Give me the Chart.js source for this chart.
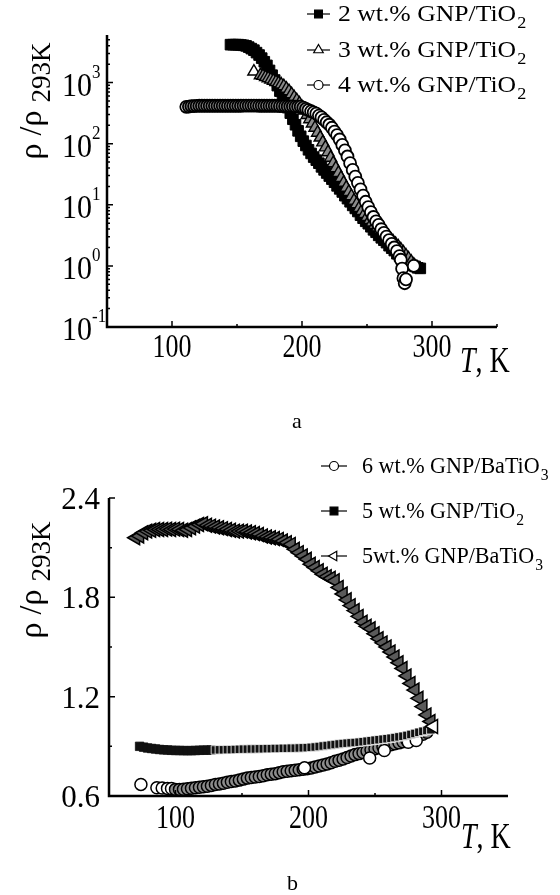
<!DOCTYPE html>
<html>
<head>
<meta charset="utf-8">
<title>rho/rho293K vs T</title>
<script src="https://cdn.jsdelivr.net/npm/chart.js@4.4.1/dist/chart.umd.min.js"></script>
<style>
  html, body { margin: 0; padding: 0; background: #fff; }
  #page { position: relative; width: 560px; height: 895px; }
  canvas { position: absolute; left: 0; }
</style>
</head>
<body>
<div id="page">
  <canvas id="chartA" width="560" height="448" style="top:0;width:560px;height:448px"></canvas>
  <canvas id="chartB" width="560" height="447" style="top:448px;width:560px;height:447px"></canvas>
</div>
<script>
// ---- panel a: rho/rho293K (log axis) vs T, K ----
const tempA2 = [145,147,149,151,153,155,157,159,161,163,165,167,169,171,173,175,177,179,181,183,
  185,187,189,191,193,195,197,199,201,203,205,207,209,211,213,215,217,219,221,223,
  225,227,229,231,233,235,237,239,241,243,245,247,249,251,253,255,257,259,261,263,
  265,267,269,271,273,275,277,279,281,283,285,287,289,291];
const rhoA2 = [4170,4170,4170,4170,4120,4070,3980,3800,3590,3390,
  3090,2820,2510,2190,1910,1580,1320,1100,891,724,
  589,479,389,316,251,204,162,132,110,93.3,
  79.4,69.2,60.3,53.7,47.9,41.7,37.2,33.1,29.5,26.3,
  23.4,20.4,18.2,16.2,14.1,12.6,11.2,9.77,8.71,7.76,
  6.76,6.03,5.37,4.90,4.37,3.89,3.55,3.16,2.88,2.63,
  2.40,2.14,1.95,1.78,1.58,1.45,1.32,1.23,1.15,1.07,
  1.02,0.98,0.93,0.91];

const tempA3 = [163,168,170,172,174,176,178,180,182,184,186,188,190,192,194,196,198,200,202,204,
  206,208,210,212,214,216,218,220,222,224,226,228,230,232,234,236,238,240,242,244,
  246,248,250,252,254,256,258,260,262,264,266,268,270,272,274,276,278,280,282,284,286];
const rhoA3 = [1514,1318,1288,1230,1175,1122,1072,1023,977,933,871,
  794,724,646,575,513,457,398,347,295,251,
  214,182,151,126,105,87.1,72.4,58.9,47.9,39.8,
  33.1,27.5,22.9,19.1,16.2,13.8,11.7,10.2,8.91,7.94,
  7.08,6.31,5.62,5.13,4.68,4.27,3.89,3.55,3.24,3.02,
  2.75,2.51,2.29,2.09,1.86,1.66,1.48,1.32,1.17,1.05];

const tempA4 = [111,113,115,117,119,121,123,125,127,129,131,133,135,137,139,141,143,145,147,149,
  151,153,155,157,159,161,163,165,167,169,171,173,175,177,179,181,183,185,187,189,
  191,193,195,197,199,201,203,205,207,209,211,213,215,217,219,221,223,225,227,229,
  231,233,235,237,239,241,243,245,247,249,251,253,255,257,259,261,263,265,267,269,
  271,273,275,276,277,278,279,280,286];
const rhoA4 = [400,405,410,412,415,417,417,417,417,417,417,417,417,417,417,417,417,417,417,417,
  417,417,420,420,420,420,420,420,417,417,417,417,417,417,417,415,412,410,410,407,
  407,407,405,405,403,389,372,355,339,324,309,288,269,245,224,204,182,158,138,117,
  95.5,77.6,61.7,47.9,37.2,28.8,22.9,17.8,14.1,11.2,9.12,7.59,6.31,5.37,4.68,3.98,3.47,3.02,2.63,2.29,
  2.00,1.74,1.45,1.26,0.90,0.63,0.52,0.60,1.00];

const xTicksA = [100, 200, 300];
const xTickLabelsA = ['100', '200', '300'];
const xMinorA = [150, 250, 350];
const yTicksA = [0.1, 1, 10, 100, 1000];
const yTickExpA = ['-1', '0', '1', '2', '3'];

// ---- panel b: rho/rho293K (linear axis) vs T, K ----
const tempB6 = [74,86,90,94,97,100,103,106,109,112,115,118,121,124,127,130,133,136,139,142,
  145,148,151,154,157,160,163,166,169,172,175,178,181,184,187,190,193,196,199,202,
  205,208,211,214,217,220,223,226,229,232,235,238,241,244,247,250,253,256,259,262,
  265,268,271,274,277,280,283,286,289,197,246,257,275,281];
const rhoB6 = [0.67,0.65,0.648,0.646,0.645,0.640,0.640,0.641,0.644,0.647,0.650,0.653,0.656,0.659,0.664,0.670,0.673,0.677,0.683,0.687,
  0.690,0.696,0.702,0.708,0.712,0.715,0.718,0.722,0.728,0.732,0.735,0.741,0.746,0.749,0.752,0.755,0.758,0.761,0.764,0.769,
  0.775,0.781,0.787,0.793,0.801,0.810,0.816,0.823,0.832,0.841,0.850,0.856,0.863,0.872,0.879,0.885,0.891,0.897,0.903,0.909,
  0.915,0.921,0.928,0.937,0.946,0.955,0.964,0.973,0.985,0.77,0.83,0.875,0.925,0.935];

const tempB5 = [73,76,79,82,85,88,91,94,97,100,103,106,109,112,115,118,121,124,127,130,
  133,136,139,142,145,148,151,154,157,160,163,166,169,172,175,178,181,184,187,190,
  193,196,199,202,205,208,211,214,217,220,223,226,229,232,235,238,241,244,247,250,
  253,256,259,262,265,268,271,274,277,280,283,286,289,292];
const rhoB5 = [0.900,0.895,0.890,0.887,0.884,0.881,0.879,0.878,0.876,0.875,0.875,0.874,0.874,0.874,0.875,0.876,0.877,0.877,0.878,0.878,
  0.879,0.879,0.880,0.880,0.881,0.882,0.883,0.883,0.884,0.884,0.885,0.885,0.886,0.886,0.887,0.887,0.888,0.888,0.889,0.889,
  0.890,0.891,0.892,0.894,0.896,0.899,0.902,0.905,0.908,0.911,0.914,0.917,0.919,0.921,0.923,0.925,0.928,0.931,0.934,0.937,
  0.940,0.943,0.946,0.949,0.953,0.957,0.961,0.966,0.972,0.978,0.985,0.991,0.996,1.000];

const tempB5Ba = [70,73,76,79,82,85,88,91,94,97,100,103,106,109,112,115,118,121,124,127,
  130,133,136,139,142,145,148,151,154,157,160,163,166,169,172,175,178,181,184,187,
  190,193,196,199,202,205,208,211,214,217,220,223,226,229,232,235,238,241,244,247,
  250,253,256,259,262,265,268,271,274,277,280,283,286,289,292,294];
const rhoB5Ba = [2.16,2.17,2.19,2.20,2.205,2.21,2.21,2.21,2.212,2.21,2.212,2.21,2.205,2.21,2.22,2.23,2.24,2.245,2.235,2.23,
  2.225,2.22,2.215,2.21,2.205,2.20,2.20,2.20,2.195,2.19,2.185,2.18,2.17,2.165,2.16,2.155,2.15,2.14,2.13,2.12,
  2.09,2.07,2.05,2.03,2.00,1.98,1.96,1.94,1.925,1.915,1.90,1.86,1.82,1.785,1.75,1.72,1.685,1.65,1.625,1.61,
  1.58,1.55,1.525,1.50,1.47,1.44,1.405,1.37,1.325,1.28,1.24,1.19,1.14,1.09,1.05,1.02];

const xTicksB = [100, 200, 300];
const xTickLabelsB = ['100', '200', '300'];
const xMinorB = [150, 250];
const yTicksB = [0.6, 1.2, 1.8, 2.4];
const yTickLabelsB = ['0.6', '1.2', '1.8', '2.4'];
const yMinorB = [0.9, 1.5, 2.1];

const legendA = [
  { text: '2 wt.% GNP/TiO', sub: '2', style: 'rect', fill: '#000', r: 5.5 },
  { text: '3 wt.% GNP/TiO', sub: '2', style: 'triangle', fill: '#fff', r: 5.5 },
  { text: '4 wt.% GNP/TiO', sub: '2', style: 'circle', fill: '#fff', r: 4.5 }
];
const legendB = [
  { text: '6 wt.% GNP/BaTiO', sub: '3', style: 'circle', fill: '#fff', r: 4.5 },
  { text: '5 wt.% GNP/TiO', sub: '2', style: 'rect', fill: '#000', r: 5.5 },
  { text: '5wt.% GNP/BaTiO', sub: '3', style: 'triangle', fill: '#fff', r: 5.5, rot: -90 }
];

const SERIF = '"Liberation Serif", "Times New Roman", serif';
const pts = (xs, ys) => xs.map((x, i) => ({ x: x, y: ys[i] }));

function txt(ctx, s, x, y, o) {
  ctx.save();
  ctx.translate(x, y);
  ctx.scale(o.sx || 1, o.sy || 1);
  ctx.font = (o.italic ? 'italic ' : '') + o.size + 'px ' + SERIF;
  ctx.textAlign = o.align || 'left';
  ctx.textBaseline = 'alphabetic';
  ctx.fillStyle = '#000';
  ctx.fillText(s, 0, 0);
  const w = ctx.measureText(s).width * (o.sx || 1);
  ctx.restore();
  return w;
}

function frame(chart, xMajor, xMinor, yMajor, yMinor) {
  const { ctx, chartArea: a, scales: { x, y } } = chart;
  ctx.save();
  ctx.strokeStyle = '#000';
  ctx.lineWidth = 2.5;
  ctx.beginPath();
  ctx.moveTo(a.left, a.top);
  ctx.lineTo(a.left, a.bottom);
  ctx.lineTo(a.right, a.bottom);
  ctx.stroke();
  ctx.lineWidth = 1.5;
  ctx.beginPath();
  xMajor.forEach(v => { const p = x.getPixelForValue(v); ctx.moveTo(p, a.bottom); ctx.lineTo(p, a.bottom - 6); });
  xMinor.forEach(v => { const p = x.getPixelForValue(v); ctx.moveTo(p, a.bottom); ctx.lineTo(p, a.bottom - 3); });
  yMajor.forEach(v => { const p = y.getPixelForValue(v); ctx.moveTo(a.left, p); ctx.lineTo(a.left + 6, p); });
  yMinor.forEach(v => { const p = y.getPixelForValue(v); ctx.moveTo(a.left, p); ctx.lineTo(a.left + 3, p); });
  ctx.stroke();
  ctx.restore();
}

function yTitle(ctx, baseX, cy) {
  ctx.save();
  ctx.translate(baseX, cy);
  ctx.rotate(-Math.PI / 2);
  ctx.fillStyle = '#000';
  ctx.textBaseline = 'alphabetic';
  ctx.font = '32px ' + SERIF;
  const main = '\u03c1 /\u03c1 ';
  const wMain = ctx.measureText(main).width;
  ctx.font = '27px ' + SERIF;
  const wSub = ctx.measureText('293K').width;
  const start = -(wMain + wSub) / 2;
  ctx.font = '32px ' + SERIF;
  ctx.fillText(main, start, 0);
  ctx.font = '27px ' + SERIF;
  ctx.fillText('293K', start + wMain, 9);
  ctx.restore();
}

function tLabel(ctx, x, base) {
  const w = txt(ctx, 'T', x, base, { size: 28, italic: true, sy: 1.3 });
  txt(ctx, ', K', x + w, base, { size: 28, sy: 1.3 });
}

function legend(ctx, items, L) {
  items.forEach((it, i) => {
    const base = L.base[i];
    const my = base - 7;
    ctx.save();
    ctx.strokeStyle = '#000';
    ctx.lineWidth = 1.2;
    ctx.beginPath();
    ctx.moveTo(L.x0, my);
    ctx.lineTo(L.x1, my);
    ctx.stroke();
    ctx.fillStyle = it.fill;
    Chart.helpers.drawPoint(ctx, { pointStyle: it.style, radius: it.r, rotation: it.rot || 0, borderWidth: 1.2 }, (L.x0 + L.x1) / 2, my);
    ctx.restore();
    const w = txt(ctx, it.text, L.tx, base, { size: 24, sx: L.sx });
    txt(ctx, it.sub, L.tx + w + 1, base + 7, { size: 17, sx: L.sx });
  });
}

const panelA = {
  id: 'panelA',
  afterDraw(chart) {
    const ctx = chart.ctx, x = chart.scales.x, y = chart.scales.y;
    const yMinor = [];
    for (let e = -1; e <= 3; e++) for (let m = 2; m <= 9; m++) {
      const v = m * Math.pow(10, e);
      if (v < 6000) yMinor.push(v);
    }
    frame(chart, xTicksA, xMinorA, yTicksA, yMinor);
    xTicksA.forEach((v, i) => txt(ctx, xTickLabelsA[i], x.getPixelForValue(v), 357, { size: 26, sy: 1.28, align: 'center' }));
    yTicksA.forEach((v, i) => {
      const p = y.getPixelForValue(v);
      txt(ctx, '10', 92, p + 13, { size: 30, sy: 1.12, align: 'right' });
      txt(ctx, yTickExpA[i], 92, p - 5, { size: 17, sy: 1.15 });
    });
    yTitle(ctx, 41, 101);
    tLabel(ctx, 460, 372);
    txt(ctx, 'a', 292, 428, { size: 22 });
    legend(ctx, legendA, { x0: 307, x1: 330, tx: 338, base: [21, 57, 92], sx: 1.07 });
  }
};

const panelB = {
  id: 'panelB',
  afterDraw(chart) {
    const ctx = chart.ctx, x = chart.scales.x, y = chart.scales.y;
    frame(chart, xTicksB, xMinorB, yTicksB, yMinorB);
    xTicksB.forEach((v, i) => txt(ctx, xTickLabelsB[i], x.getPixelForValue(v), 380, { size: 26, sy: 1.28, align: 'center' }));
    yTicksB.forEach((v, i) => txt(ctx, yTickLabelsB[i], 100, y.getPixelForValue(v) + 11, { size: 31, sy: 1.05, align: 'right' }));
    yTitle(ctx, 41, 132);
    tLabel(ctx, 461, 400);
    txt(ctx, 'b', 287, 442, { size: 22 });
    legend(ctx, legendB, { x0: 321, x1: 347, tx: 362, base: [25, 70, 115], sx: 0.92 });
  }
};

const baseOptions = (pad, xScale, yScale) => ({
  responsive: false,
  animation: false,
  events: [],
  layout: { padding: pad },
  scales: { x: xScale, y: yScale },
  plugins: { legend: { display: false }, tooltip: { enabled: false } }
});

// dense runs of open markers read as grey bands in the scan; isolated ones stay white
const bandFill = (grey, isOpen) => c => (isOpen(c) ? '#fff' : grey);

new Chart(document.getElementById('chartA'), {
  type: 'scatter',
  data: {
    datasets: [
      { label: '2 wt.% GNP/TiO2', data: pts(tempA2, rhoA2), pointStyle: 'rect', pointRadius: 7.5,
        backgroundColor: '#000', borderColor: '#000', borderWidth: 1, order: 3 },
      { label: '3 wt.% GNP/TiO2', data: pts(tempA3, rhoA3), pointStyle: 'triangle', pointRadius: 7,
        backgroundColor: bandFill('#8a8a8a', c => c.dataIndex === 0),
        borderColor: '#000', borderWidth: 1.4, order: 2 },
      { label: '4 wt.% GNP/TiO2', data: pts(tempA4, rhoA4), pointStyle: 'circle', pointRadius: 6,
        backgroundColor: bandFill('#9a9a9a', c => c.raw && (c.raw.x >= 205 || c.dataIndex === 0)),
        borderColor: '#000', borderWidth: 1.8, order: 1 }
    ]
  },
  options: baseOptions({ left: 107, right: 63, top: 35, bottom: 121 },
    { type: 'linear', min: 50, max: 350, display: false },
    { type: 'logarithmic', min: 0.1, max: 6000, display: false }),
  plugins: [panelA]
});

new Chart(document.getElementById('chartB'), {
  type: 'scatter',
  data: {
    datasets: [
      { label: '6 wt.% GNP/BaTiO3', data: pts(tempB6, rhoB6), pointStyle: 'circle', pointRadius: 6,
        backgroundColor: bandFill('#8c8c8c', c => c.raw && (c.raw.x < 100 || c.dataIndex >= 69)),
        borderColor: '#000', borderWidth: 1.5, order: 3 },
      { label: '5 wt.% GNP/TiO2', data: pts(tempB5, rhoB5), pointStyle: 'rect', pointRadius: 6,
        backgroundColor: '#111',
        borderColor: c => (c.raw && c.raw.x < 130 ? '#111' : '#fff'), borderWidth: 0.8, order: 2 },
      { label: '5wt.% GNP/BaTiO3', data: pts(tempB5Ba, rhoB5Ba), pointStyle: 'triangle', rotation: -90, pointRadius: 8,
        backgroundColor: bandFill('#5a5a5a', c => c.dataIndex === tempB5Ba.length - 1),
        borderColor: '#000', borderWidth: 1.5, order: 1 }
    ]
  },
  options: baseOptions({ left: 109, right: 52, top: 50, bottom: 99 },
    { type: 'linear', min: 50, max: 350, display: false },
    { type: 'linear', min: 0.6, max: 2.4, display: false }),
  plugins: [panelB]
});
</script>
</body>
</html>
